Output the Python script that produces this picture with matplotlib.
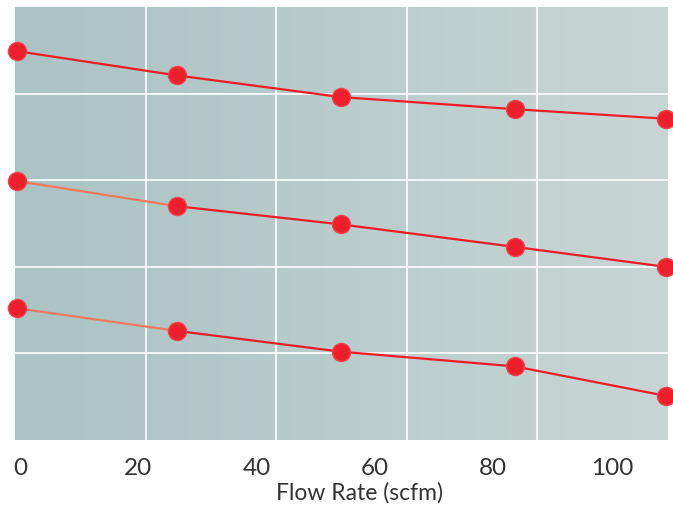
import matplotlib.pyplot as plt
import numpy as np

# values (y has no scale, arbitrary units)
flow = [-0.5, 26.5, 54.2, 83.6, 109.1]
upper = [4.49, 4.21, 3.96, 3.82, 3.71]
middle = [2.99, 2.70, 2.49, 2.23, 2.00]
lower = [1.52, 1.26, 1.02, 0.85, 0.51]
xticks = [0, 20, 40, 60, 80, 100]

red = '#ee1c27'
orange = '#f27a5e'

plt.rcParams['font.family'] = ['Lato', 'DejaVu Sans']

fig = plt.figure(figsize=(6.73, 5.08), dpi=100)
ax = fig.add_axes([15/673, 68/508, 653/673, 433/508])

xmin, xmax = -0.85, 109.5
ymin, ymax = 0, 5
ax.set_xlim(xmin, xmax)
ax.set_ylim(ymin, ymax)

# background gradient left -> right
grad = np.linspace(0, 1, 256).reshape(1, -1)
cmap = plt.matplotlib.colors.LinearSegmentedColormap.from_list('bg', ['#aac3c3', '#c7d6d4'])
ax.imshow(grad, extent=[xmin, xmax, ymin, ymax], aspect='auto', cmap=cmap, zorder=0)

# white grid: five equal bands each way
for gx in np.linspace(xmin, xmax, 6)[1:-1]:
    ax.axvline(gx, color='white', lw=1.2, zorder=1)
for gy in np.linspace(ymin, ymax, 6)[1:-1]:
    ax.axhline(gy, color='white', lw=1.2, zorder=1)

for i, ys in enumerate([upper, middle, lower]):
    first = red if i == 0 else orange
    ax.plot(flow[:2], ys[:2], color=first, lw=1.6, zorder=2)
    ax.plot(flow[1:], ys[1:], color=red, lw=1.6, zorder=2)
    ax.plot(flow, ys, 'o', ms=13, color='#ee1f2a', mec='#f0434b', mew=1,
            zorder=3, clip_on=False)

for s in ax.spines.values():
    s.set_visible(False)
ax.set_yticks([])
ax.set_xticks(xticks)
ax.tick_params(axis='x', length=0, pad=13, labelsize=17.5, labelcolor='#333333')
ax.set_xlabel('Flow Rate (scfm)', fontsize=16.5, color='#333333')
ax.xaxis.set_label_coords(0.528, -0.098)

fig.savefig('out.png', dpi=100)
